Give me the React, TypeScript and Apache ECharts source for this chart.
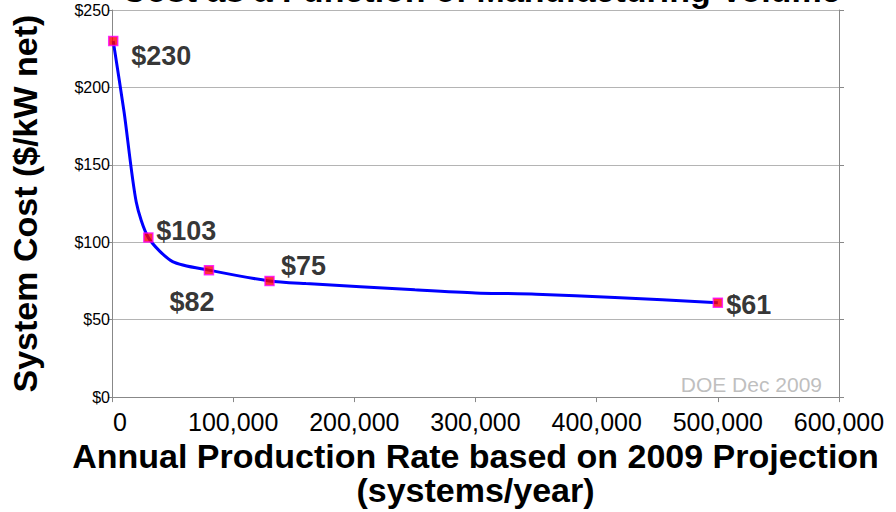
import React, { useEffect, useRef } from "react";
import * as echarts from "echarts";

const titleText = "Cost as a Function of Manufacturing Volume";
const xAxisName = "Annual Production Rate based on 2009 Projection\n(systems/year)";
const yAxisName = "System Cost ($/kW net)";
const sourceNote = "DOE Dec 2009";

// marked points (systems/year, $/kW net)
const markedRates = [1000, 30000, 80000, 130000, 500000];
const markedCosts = [230, 103, 82, 75, 61];
// label offsets from marker centre (px)
const labelOffsets: [number, number][] = [
  [48, 15],
  [38, -7],
  [-17, 32],
  [34, -15],
  [31, 2],
];

// curve
const curveRates = [1000, 10000, 20000, 30000, 50000, 80000, 130000, 160000, 250000, 300000, 350000, 415000, 500000];
const curveCosts = [230, 184, 126, 103, 87.5, 82, 75, 73.3, 69.3, 67.3, 66.5, 64.4, 61];

const FONT = '"Liberation Sans", Arial, Helvetica, sans-serif';

export default function App() {
  const ref = useRef<HTMLDivElement>(null);

  useEffect(() => {
    if (!ref.current) return;
    const chart = echarts.init(ref.current, undefined, { renderer: "svg" });

    const curve = curveRates.map((r, i) => [r, curveCosts[i]]);
    const marks = markedRates.map((r, i) => ({
      value: [r, markedCosts[i]],
      label: { offset: labelOffsets[i] },
    }));

    chart.setOption({
      animation: false,
      backgroundColor: "#ffffff",
      textStyle: { fontFamily: FONT },
      grid: { left: 112, right: 57, top: 10, bottom: 107 },
      xAxis: {
        type: "value",
        min: 0,
        max: 600000,
        interval: 100000,
        name: xAxisName,
        nameLocation: "middle",
        nameGap: 34,
        nameTextStyle: {
          fontSize: 34,
          fontWeight: "bold",
          color: "#000",
          lineHeight: 34,
          fontFamily: FONT,
        },
        axisLine: { show: true, lineStyle: { color: "#888888", width: 1 } },
        axisTick: { show: true, length: 5, lineStyle: { color: "#888888" } },
        axisLabel: {
          fontSize: 25,
          color: "#000",
          margin: 12,
          fontFamily: FONT,
          formatter: (v: number) =>
            v === 0 ? "{z|0}" : v.toLocaleString("en-US"),
          rich: {
            z: { fontSize: 25, color: "#000", fontFamily: FONT, padding: [0, 0, 0, 16] },
          },
        },
        splitLine: { show: false },
      },
      yAxis: [
        {
          type: "value",
          min: 0,
          max: 250,
          interval: 50,
          position: "left",
          name: yAxisName,
          nameLocation: "middle",
          nameGap: 70,
          nameTextStyle: {
            fontSize: 34,
            fontWeight: "bold",
            color: "#000",
            fontFamily: FONT,
          },
          axisLine: { show: true, lineStyle: { color: "#888888", width: 1 } },
          axisTick: { show: true, length: 4, lineStyle: { color: "#888888" } },
          axisLabel: {
            fontSize: 16,
            color: "#000",
            margin: 2,
            fontFamily: FONT,
            formatter: (v: number) => "$" + v,
          },
          splitLine: { show: true, lineStyle: { color: "#b4b4b4", width: 1 } },
        },
        {
          type: "value",
          min: 0,
          max: 250,
          interval: 50,
          position: "right",
          axisLine: { show: true, lineStyle: { color: "#888888", width: 1 } },
          axisTick: { show: true, length: 5, lineStyle: { color: "#888888" } },
          axisLabel: { show: false },
          splitLine: { show: false },
        },
      ],
      series: [
        {
          type: "line",
          data: curve,
          smooth: 0.25,
          showSymbol: false,
          symbol: "none",
          lineStyle: { color: "#0000ff", width: 3 },
          z: 2,
        },
        {
          type: "scatter",
          data: marks,
          symbol: "rect",
          symbolSize: 9,
          itemStyle: { color: "#ff0000", borderColor: "#ff00ff", borderWidth: 1.5 },
          label: {
            show: true,
            position: "inside",
            align: "center",
            verticalAlign: "middle",
            fontSize: 27,
            fontWeight: "bold",
            color: "#000000",
            fontFamily: FONT,
            formatter: (p: any) => "$" + p.value[1],
          },
          z: 3,
        },
      ],
      graphic: [
        {
          type: "text",
          x: 481,
          y: 7,
          style: {
            text: titleText,
            font: `bold 34px ${FONT}`,
            fill: "#000",
            textAlign: "center",
            textVerticalAlign: "bottom",
          },
        },
        {
          type: "text",
          x: 822,
          y: 384,
          style: {
            text: sourceNote,
            font: `21px ${FONT}`,
            fill: "#bfbfbf",
            textAlign: "right",
            textVerticalAlign: "middle",
          },
        },
      ],
    });

    return () => chart.dispose();
  }, []);

  return <div ref={ref} style={{ width: 896, height: 512, position: "fixed", left: 0, top: 0 }} />;
}
